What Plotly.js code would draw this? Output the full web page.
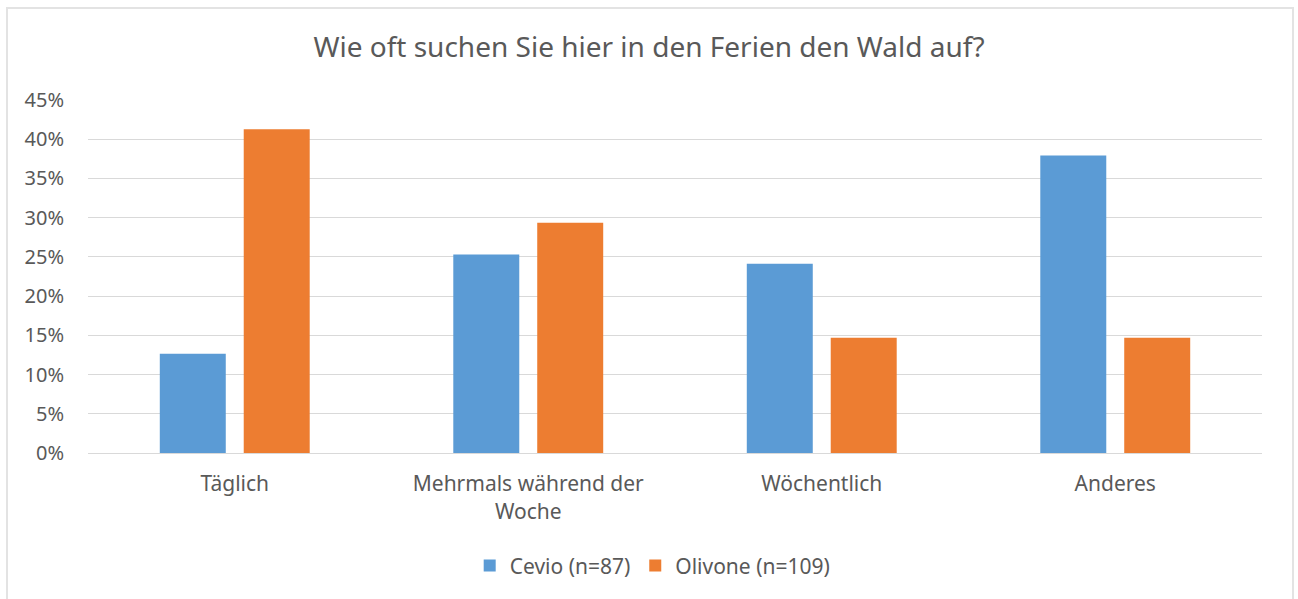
<!DOCTYPE html>
<html>
<head>
<meta charset="utf-8">
<script src="https://cdn.plot.ly/plotly-3.0.1.min.js"></script>
<style>
  html, body { margin: 0; padding: 0; background: #fff; }
  #wrap { position: relative; width: 1298px; height: 599px; overflow: hidden; }
  #chart { position: absolute; left: 0; top: 0; width: 1298px; height: 599px; }
  #frame { position: absolute; left: 6px; top: 7px; width: 1284px; height: 620px;
           border: 2px solid #e3e3e3; pointer-events: none; }
</style>
</head>
<body>
<div id="wrap">
  <div id="chart"></div>
  <div id="frame"></div>
</div>
<script>
const categories = ["Täglich", "Mehrmals während der<br>Woche", "Wöchentlich", "Anderes"];
const cevioValues = [0.1264, 0.2529, 0.2414, 0.3793];
const olivoneValues = [0.4128, 0.2936, 0.1468, 0.1468];
const seriesNames = ["Cevio (n=87)", "Olivone (n=109)"];
const yTickValues = [0, 0.05, 0.10, 0.15, 0.20, 0.25, 0.30, 0.35, 0.40, 0.45];

const font = "'Noto Sans', sans-serif";
const grey = "#595959";

const data = [
  { type: "bar", name: seriesNames[0], x: categories, y: cevioValues,
    marker: { color: "#5B9BD5" }, hoverinfo: "none" },
  { type: "bar", name: seriesNames[1], x: categories, y: olivoneValues,
    marker: { color: "#ED7D31" }, hoverinfo: "none" }
];

const layout = {
  width: 1298, height: 599,
  paper_bgcolor: "#ffffff", plot_bgcolor: "#ffffff",
  margin: { l: 88, r: 36, t: 100, b: 146 },
  font: { family: font, color: grey, size: 21 },
  title: { text: "Wie oft suchen Sie hier in den Ferien den Wald auf?",
           font: { family: font, size: 28, color: grey },
           x: 0.5, xanchor: "center", y: 0.921, yanchor: "middle" },
  barmode: "group",
  bargap: 0.428,
  bargroupgap: 0.214,
  showlegend: true,
  legend: { orientation: "h", x: 0.481, xanchor: "center", y: -0.32, yanchor: "middle",
            font: { family: font, size: 21, color: grey }, itemwidth: 30, traceorder: "normal" },
  xaxis: { type: "category", showgrid: false, showline: true, linecolor: "#d9d9d9", linewidth: 1,
           ticks: "", ticklabelstandoff: 12,
           tickfont: { family: font, size: 21, color: grey }, fixedrange: true },
  yaxis: { range: [0, 0.45], tickvals: yTickValues, tickformat: ".0%",
           showgrid: true, gridcolor: "#d9d9d9", gridwidth: 1, zeroline: false,
           showline: false, ticks: "", ticklabelstandoff: 23,
           tickfont: { family: font, size: 20, color: grey }, fixedrange: true }
};

Plotly.newPlot("chart", data, layout, { displayModeBar: false, staticPlot: true });
</script>
</body>
</html>
